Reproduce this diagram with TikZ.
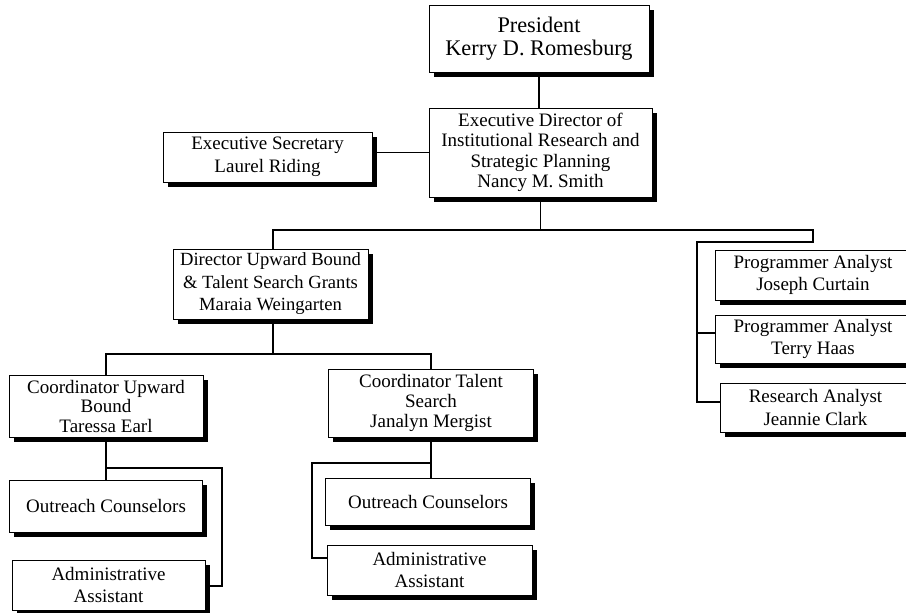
\documentclass[tikz,border=0pt]{standalone}
\usepackage{fontspec}
\setmainfont{Liberation Serif}
\usetikzlibrary{shadows}
\begin{document}
\begin{tikzpicture}[x=1pt,y=-1pt,
  box/.style={draw=black, line width=0.9pt, fill=white, align=center, inner sep=0pt,
    font=\fontsize{19}{22.5}\selectfont,
    general shadow={shadow xshift=4.5pt, shadow yshift=-4.5pt, fill=black}},
  conn/.style={draw=black, line width=1.1pt}]
\useasboundingbox (0,0) rectangle (906,613);
\clip (0,0) rectangle (906,613);
\fill[white] (0,0) rectangle (906,613);

% nodes
\node[box, minimum width=220pt, minimum height=67pt, font=\fontsize{22.3}{23.5}\selectfont] (pres) at (539,38.5) {President\\Kerry D. Romesburg};
\node[box, minimum width=223pt, minimum height=89pt, font=\fontsize{19}{20.5}\selectfont] (ed) at (540.5,152.5) {Executive Director of\\Institutional Research and\\Strategic Planning\\Nancy M. Smith};
\node[box, minimum width=209pt, minimum height=50pt] (sec) at (267.5,157) {Executive Secretary\\Laurel Riding};
\node[box, minimum width=195pt, minimum height=70pt, font=\fontsize{18.6}{22.5}\selectfont] (dir) at (270.5,284) {Director Upward Bound\\\& Talent Search Grants\\Maraia Weingarten};
\node[box, minimum width=194pt, minimum height=62pt, font=\fontsize{19}{19.5}\selectfont] (cub) at (106,406) {Coordinator Upward\\Bound\\Taressa Earl};
\node[box, minimum width=205pt, minimum height=68pt, font=\fontsize{19}{20}\selectfont] (cts) at (431,403) {Coordinator Talent\\Search\\Janalyn Mergist};
\node[box, minimum width=193pt, minimum height=52pt] (oc1) at (106,506) {Outreach Counselors};
\node[box, minimum width=193pt, minimum height=50pt] (aa1) at (108.5,585) {Administrative\\Assistant};
\node[box, minimum width=205pt, minimum height=47pt] (oc2) at (428,501.5) {Outreach Counselors};
\node[box, minimum width=205pt, minimum height=50pt] (aa2) at (429.5,570) {Administrative\\Assistant};
\node[box, minimum width=196pt, minimum height=50pt] (jc) at (813,275) {Programmer Analyst\\Joseph Curtain};
\node[box, minimum width=196pt, minimum height=48pt] (th) at (813,339) {Programmer Analyst\\Terry Haas};
\node[box, minimum width=191pt, minimum height=49pt] (ra) at (815.5,407.5) {Research Analyst\\Jeannie Clark};

% coordinates for connector bends
\coordinate (b1) at (540,230);
\coordinate (rt) at (813,230);
\coordinate (rc) at (697,242);
\coordinate (tb) at (697,333);
\coordinate (rb) at (697,402);
\coordinate (b2) at (273,354);
\coordinate (c1) at (106,468);
\coordinate (c1r) at (222,468);
\coordinate (c1d) at (222,586);
\coordinate (c2) at (431,463);
\coordinate (c2l) at (312,463);
\coordinate (c2d) at (312,558);

% connectors
\draw[conn] (pres.south) -- (pres.south |- ed.north);
\draw[conn] (sec.east |- ed.west) -- (ed.west);
\draw[conn] (ed.south) -- (ed.south |- b1);
\draw[conn] (b2 |- dir.north) |- (rt) -- (rt |- rc) -- (rc) -- (rb) -- (rb -| ra.west);
\draw[conn] (tb) -- (tb -| th.west);
\draw[conn] (b2 |- dir.south) -- (b2);
\draw[conn] (cub.north) |- (b2) -| (cts.north);
\draw[conn] (cub.south) -- (oc1.north);
\draw[conn] (c1) -- (c1r) -- (c1d) -- (c1d -| aa1.east);
\draw[conn] (cts.south) -- (cts.south |- oc2.north);
\draw[conn] (c2) -- (c2l) -- (c2d) -- (c2d -| aa2.west);
\end{tikzpicture}
\end{document}
